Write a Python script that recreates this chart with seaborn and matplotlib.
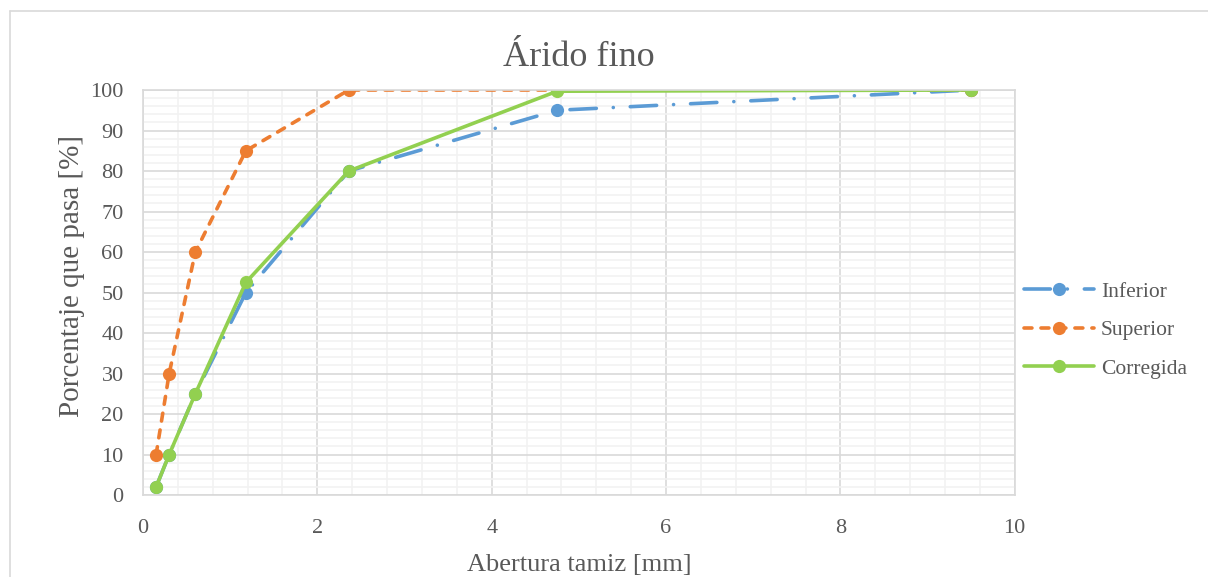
import numpy as np
import pandas as pd
import matplotlib
matplotlib.use("Agg")
import matplotlib.pyplot as plt
import seaborn as sns
from matplotlib.ticker import MultipleLocator
from matplotlib.lines import Line2D

# datos de la granulometría
abertura = [0.15, 0.3, 0.6, 1.18, 2.36, 4.75, 9.5]
inferior = [2, 10, 25, 50, 80, 95, 100]
superior = [10, 30, 60, 85, 100, 100, 100]
corregida = [2, 10, 25, 52.5, 80, 99.7, 100]

sns.set_style("white")
plt.rcParams["font.family"] = ["Liberation Serif", "DejaVu Serif"]
gris = "#595959"

fig = plt.figure(figsize=(12.08, 5.77), dpi=100)
ax = fig.add_axes([0.1184, 0.142, 0.7216, 0.702])

# marco del gráfico (solo arriba e izquierda visibles)
W, H = 1208, 577
fig.lines.append(Line2D([10 / W, 1], [1 - 11 / H, 1 - 11 / H], transform=fig.transFigure,
                        color="#D9D9D9", lw=1.2))
fig.lines.append(Line2D([10 / W, 10 / W], [0, 1 - 11 / H], transform=fig.transFigure,
                        color="#D9D9D9", lw=1.2))

lw = 2.6
sns.lineplot(x=abertura, y=inferior, ax=ax, color="#5B9BD5", lw=lw,
             marker="o", markersize=9.5, markeredgewidth=0,
             dashes=(7.3, 4.7, 0.01, 4.7), dash_capstyle="round",
             label="Inferior")
sns.lineplot(x=abertura, y=superior, ax=ax, color="#ED7D31", lw=lw,
             marker="o", markersize=9.5, markeredgewidth=0,
             dashes=(2.2, 2.5), dash_capstyle="round",
             label="Superior")
sns.lineplot(x=abertura, y=corregida, ax=ax, color="#92D050", lw=lw,
             marker="o", markersize=9.5, markeredgewidth=0,
             label="Corregida")

ax.set_xlim(0, 10)
ax.set_ylim(0, 100)
ax.xaxis.set_major_locator(MultipleLocator(2))
ax.xaxis.set_minor_locator(MultipleLocator(0.4))
ax.yaxis.set_major_locator(MultipleLocator(10))
ax.yaxis.set_minor_locator(MultipleLocator(2))
ax.grid(which="major", color="#D9D9D9", lw=1.2)
ax.grid(which="minor", color="#F2F2F2", lw=1.2)
ax.set_axisbelow(True)
for s in ax.spines.values():
    s.set_color("#D9D9D9")
    s.set_linewidth(1.2)
ax.tick_params(which="both", length=0, labelsize=16, colors=gris)
ax.tick_params(axis="x", pad=17)
ax.tick_params(axis="y", pad=14)

ax.set_xlabel("Abertura tamiz [mm]", fontsize=19, color=gris, labelpad=12)
ax.set_ylabel("Porcentaje que pasa [%]", fontsize=21, color=gris, labelpad=4)
ax.yaxis.label.set_y(0.54)
ax.set_title("Árido fino", fontsize=26, color=gris, pad=17)

leg = ax.legend(loc="center left", bbox_to_anchor=(1.0, 0.407), frameon=False,
                fontsize=15.5, handlelength=3.25, labelspacing=0.85,
                handletextpad=0.3, borderpad=0, borderaxespad=0.45)
for t in leg.get_texts():
    t.set_color(gris)

fig.savefig("out.png", dpi=100)
